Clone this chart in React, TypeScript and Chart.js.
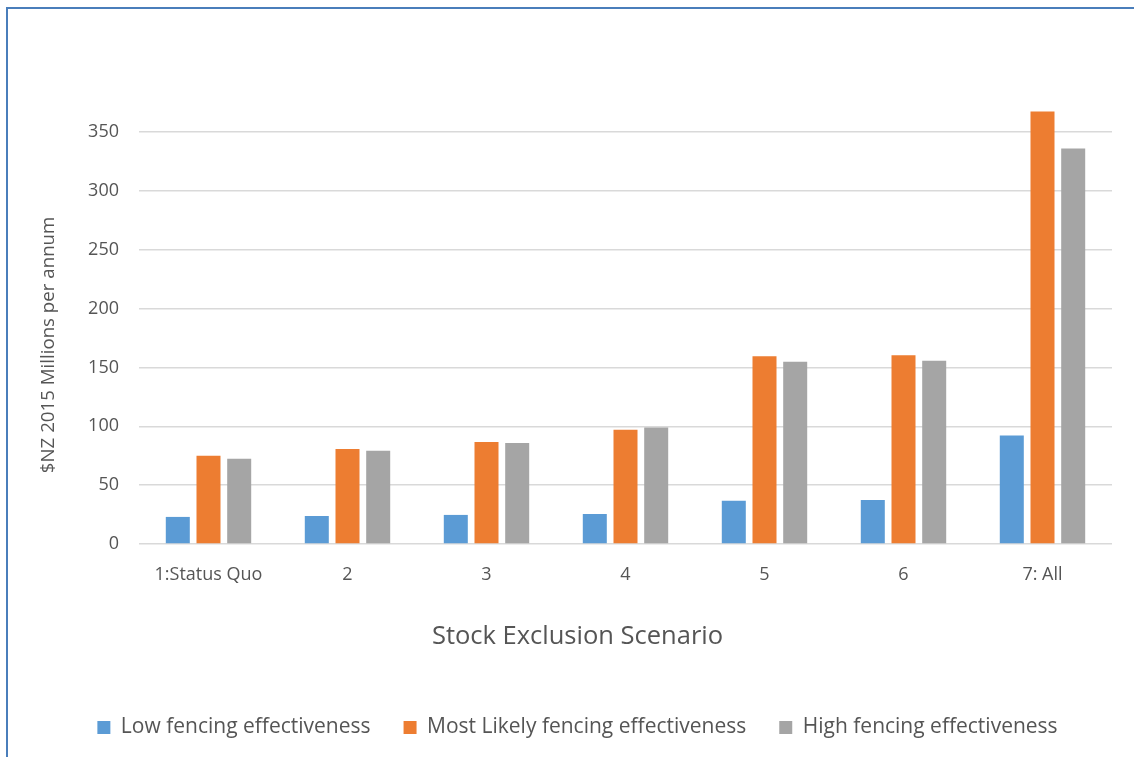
import React, { useEffect, useRef } from "react";
import { Chart, registerables } from "chart.js";

Chart.register(...registerables);

const categories = ["1:Status Quo", "2", "3", "4", "5", "6", "7: All"];
const lowValues = [23, 23.8, 24.7, 25.5, 36.7, 37.3, 92.2];
const mostLikelyValues = [74.9, 80.6, 86.6, 97, 159.4, 160.2, 367.4];
const highValues = [72.3, 79.2, 85.8, 99, 154.8, 155.7, 335.8];
const seriesNames = [
  "Low fencing effectiveness",
  "Most Likely fencing effectiveness",
  "High fencing effectiveness",
];
const yTitle = "$NZ 2015 Millions per annum";
const xTitle = "Stock Exclusion Scenario";

const FONT = "'Open Sans', 'Noto Sans', sans-serif";
const TEXT = "#555555";
// trailing no-break spaces shift the centred axis title toward the bottom like the original
const yTitlePad = "\u00a0".repeat(15);

export default function App() {
  const ref = useRef<HTMLCanvasElement | null>(null);

  useEffect(() => {
    if (!ref.current) return;
    const chart = new Chart(ref.current, {
      type: "bar",
      data: {
        labels: categories,
        datasets: [
          { label: seriesNames[0], data: lowValues, backgroundColor: "#5b9bd5", borderWidth: 0 },
          { label: seriesNames[1], data: mostLikelyValues, backgroundColor: "#ed7d31", borderWidth: 0 },
          { label: seriesNames[2], data: highValues, backgroundColor: "#a5a5a5", borderWidth: 0 },
        ],
      },
      options: {
        animation: false,
        responsive: false,
        maintainAspectRatio: false,
        datasets: { bar: { categoryPercentage: 0.6626, barPercentage: 0.782 } },
        layout: { padding: { left: 43, right: 22, top: 73, bottom: 9 } },
        plugins: {
          tooltip: { enabled: false },
          title: {
            display: true,
            position: "bottom",
            weight: 500,
            text: xTitle,
            color: TEXT,
            font: { family: FONT, size: 25.5, weight: "normal", lineHeight: 1.2 },
            padding: { top: 27.7, bottom: 31.7 },
          },
          legend: {
            position: "bottom",
            labels: {
              boxWidth: 13,
              boxHeight: 13,
              padding: 33,
              color: TEXT,
              font: { family: FONT, size: 21 },
            },
          },
        },
        scales: {
          x: {
            grid: { display: false, drawTicks: false },
            border: { display: false },
            ticks: { color: TEXT, font: { family: FONT, size: 18 }, padding: 20, maxRotation: 0 },
            afterFit: (scale: any) => {
              scale.height = 50;
            },
          },
          y: {
            min: 0,
            max: 400,
            grid: { color: "#d9d9d9", lineWidth: 1.5, drawTicks: false },
            border: { display: false },
            ticks: { stepSize: 50, color: TEXT, font: { family: FONT, size: 18 }, padding: 20 },
            afterBuildTicks: (scale: any) => {
              scale.ticks = scale.ticks.filter((t: any) => t.value <= 350);
            },
            title: {
              display: true,
              text: yTitle + yTitlePad,
              color: TEXT,
              font: { family: FONT, size: 18.7 },
              padding: { top: -6, bottom: 0 },
            },
            afterFit: (scale: any) => {
              scale.width = 96;
            },
          },
        },
      },
    });
    return () => chart.destroy();
  }, []);

  return (
    <div style={{ position: "fixed", left: 0, top: 0, width: 1134, height: 757, background: "#fff", overflow: "hidden" }}>
      <canvas ref={ref} width={1134} height={757} style={{ position: "absolute", left: 0, top: 0 }} />
      <div
        style={{
          position: "absolute",
          left: 6,
          top: 7,
          right: 0,
          bottom: 0,
          borderTop: "2px solid #4a7ebb",
          borderLeft: "2px solid #4a7ebb",
          pointerEvents: "none",
        }}
      />
    </div>
  );
}
